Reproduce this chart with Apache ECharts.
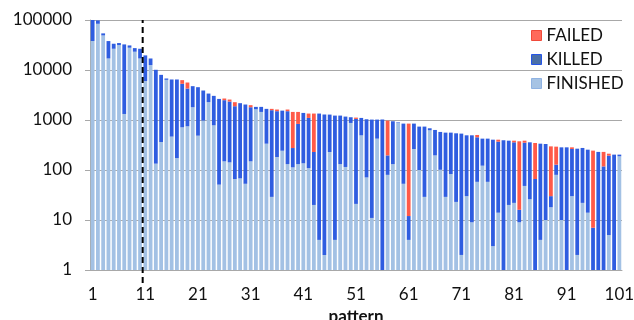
<!DOCTYPE html>
<html>
<head>
<meta charset="utf-8">
<script src="https://cdn.jsdelivr.net/npm/echarts@6/dist/echarts.min.js"></script>
<style>
  html, body { margin: 0; padding: 0; background: #fff; }
  #chart { width: 634px; height: 320px; }
</style>
</head>
<body>
<div id="chart"></div>
<script>
// pattern ids 1..101
const patterns = [];
for (let i = 1; i <= 101; i++) patterns.push(String(i));

// occurrences per pattern
const finished = [
  38000, 84000, 49300, 17000, 26600, 31500, 1320, 27900, 23200, 17000,
  5980, 12500, 134, 363, 6360, 465, 173, 715, 749, 1800,
  486, 973, 2270, 784, 51, 149, 142, 66, 68, 53,
  149, 1640, 1450, 336, 29, 182, 243, 131, 113, 131,
  136, 109, 20, 4, 2, 229, 4, 131, 115, 873,
  21, 494, 71, 11, 424, 1, 80, 131, 880, 53,
  4, 263, 100, 29, 623, 196, 101, 29, 83, 23,
  2, 30, 9, 58, 122, 58, 3, 14, 1, 20,
  22, 9, 48, 26, 1, 4, 10, 18, 80, 10,
  1, 30, 2, 22, 14, 1, 1, 1, 5, 1,
  188
];
const killed = [
  62000, 14000, 4700, 20900, 6900, 3100, 31180, 3100, 4200, 9600,
  13620, 4500, 9966, 7637, 400, 5995, 6287, 4575, 3511, 2950,
  4044, 2917, 1110, 2256, 2589, 2341, 2198, 1819, 2102, 1987,
  1651, 190, 380, 1334, 1541, 1318, 1297, 1369, 162, 703,
  1249, 991, 209, 1341, 1281, 1054, 1221, 1094, 1055, 262,
  1029, 606, 964, 1008, 595, 1018, 116, 813, 21, 794,
  8, 584, 638, 709, 60, 436, 476, 530, 476, 519,
  532, 464, 485, 393, 302, 366, 401, 355, 391, 366,
  336, 7, 304, 332, 65, 332, 321, 12, 48, 274,
  283, 233, 265, 254, 241, 6, 229, 117, 189, 202,
  15
];
const failed = [
  0, 0, 0, 0, 0, 0, 0, 0, 0, 0,
  0, 0, 0, 0, 0, 0, 0, 980, 1360, 0,
  0, 0, 0, 0, 0, 200, 225, 385, 0, 0,
  180, 0, 0, 0, 100, 120, 0, 120, 1175, 616,
  0, 245, 1116, 0, 0, 0, 0, 0, 0, 0,
  67, 0, 0, 0, 0, 0, 777, 0, 0, 0,
  835, 0, 0, 0, 0, 0, 0, 0, 0, 0,
  0, 0, 0, 51, 0, 0, 0, 35, 0, 0,
  28, 359, 34, 0, 281, 0, 0, 267, 165, 0,
  0, 21, 0, 0, 0, 237, 0, 112, 18, 0,
  0
];
const yTicks = [1, 10, 100, 1000, 10000, 100000];
// dashed separator sits between pattern 10 and 11 (x), in decades on y
const splitAt = 10.5;
const splitSpan = [-0.26, 5];

const chart = echarts.init(document.getElementById('chart'), null, { renderer: 'canvas' });
const font = 'Lato, "Open Sans", sans-serif';

const option = {
  animation: false,
  textStyle: { fontFamily: font },
  grid: { left: 90, right: 12, top: 20, bottom: 50, outerBoundsMode: 'none', containLabel: false },
  legend: {
    orient: 'vertical',
    left: 526,
    top: 22,
    itemWidth: 10,
    itemHeight: 10,
    itemGap: 7,
    textStyle: { fontFamily: font, fontSize: 17, color: '#111' },
    data: [
      { name: 'FAILED', icon: 'rect', itemStyle: { color: '#ff6a5a', borderColor: '#f04a3a', borderWidth: 1 } },
      { name: 'KILLED', icon: 'rect', itemStyle: { color: '#4a6fa8', borderColor: '#2555e8', borderWidth: 1 } },
      { name: 'FINISHED', icon: 'rect', itemStyle: { color: '#a6c3e4', borderColor: '#8fb2e2', borderWidth: 1 } }
    ]
  },
  xAxis: [
    {
      type: 'category',
      data: patterns,
      name: 'pattern',
      nameLocation: 'middle',
      nameGap: 34,
      nameTextStyle: { fontFamily: font, fontSize: 17, fontWeight: 'bold', color: '#111' },
      axisLine: { lineStyle: { color: '#a8a8a8', width: 1 } },
      axisTick: { interval: 0, length: 5, lineStyle: { color: '#a8a8a8' } },
      axisLabel: { interval: 9, margin: 16, fontSize: 17, color: '#111', fontFamily: font },
      splitLine: { show: false }
    },
    { type: 'value', min: 0.5, max: 101.5, show: false }
  ],
  yAxis: [
    {
      type: 'log',
      logBase: 10,
      min: yTicks[0],
      max: yTicks[yTicks.length - 1],
      name: 'occurrences',
      nameLocation: 'middle',
      nameGap: 66,
      nameTextStyle: { fontFamily: font, fontSize: 17, fontWeight: 'bold', color: '#111' },
      axisLine: { show: true, lineStyle: { color: '#a8a8a8', width: 1 } },
      axisTick: { show: true, length: 5, lineStyle: { color: '#a8a8a8' } },
      axisLabel: {
        margin: 18, fontSize: 17, color: '#111', fontFamily: font,
        formatter: v => String(Math.round(v))
      },
      splitLine: { lineStyle: { color: '#a8a8a8', width: 1 } }
    },
    { type: 'value', min: 0, max: 5, show: false }
  ],
  series: [
    {
      name: 'FINISHED', type: 'bar', stack: 'all', data: finished,
      barCategoryGap: '28%',
      itemStyle: { color: '#a3c1e4' }
    },
    {
      name: 'KILLED', type: 'bar', stack: 'all', data: killed,
      itemStyle: { color: '#2f5de0' }
    },
    {
      name: 'FAILED', type: 'bar', stack: 'all', data: failed,
      itemStyle: { color: '#ff5a48' }
    },
    {
      name: 'split', type: 'line', xAxisIndex: 1, yAxisIndex: 1, silent: true, clip: false,
      symbol: 'none', z: 10,
      lineStyle: { color: '#000', width: 2, type: [6, 4] },
      data: [[splitAt, splitSpan[0]], [splitAt, splitSpan[1]]]
    }
  ]
};
chart.setOption(option);
</script>
</body>
</html>
